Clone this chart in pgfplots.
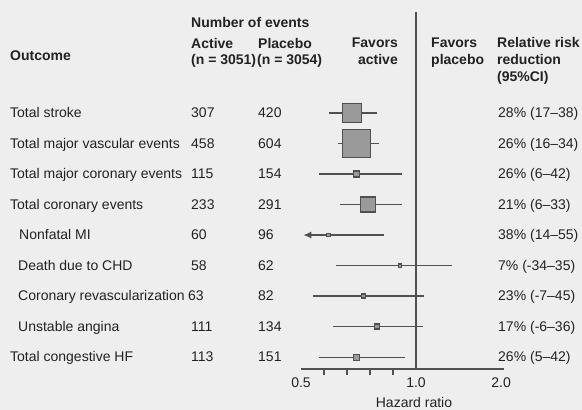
\documentclass[border=0pt]{standalone}
\usepackage{pgfplots}
\pgfplotsset{compat=1.18}
\usepackage{fontspec}
\setmainfont{Liberation Sans}
\usetikzlibrary{arrows.meta}
\definecolor{bg}{HTML}{EEEEEE}
\definecolor{txt}{HTML}{222222}
\definecolor{ln}{HTML}{505050}
\definecolor{boxfill}{HTML}{9A9A9A}
\begin{document}
\fontsize{14pt}{16pt}\selectfont
\begin{tikzpicture}
\begin{scope}[x=1pt,y=-1pt,
  lab/.style={anchor=base west,inner sep=0pt,text=txt,font=\fontsize{14pt}{16pt}\selectfont},
  hdr/.style={anchor=base west,inner sep=0pt,text=txt,font=\fontsize{14pt}{16pt}\selectfont\bfseries}]
\fill[bg] (0,0) rectangle (582,410);
\path[use as bounding box] (0,0) rectangle (582,410);
% headers
\node[hdr] at (191,27) {Number of events};
\node[hdr] at (10,60) {Outcome};
\node[hdr] at (191,48) {Active};
\node[hdr] at (191,64) {(n = 3051)};
\node[hdr] at (258,48) {Placebo};
\node[hdr] at (257,64) {(n = 3054)};
\node[hdr,anchor=base east] at (398,47) {Favors};
\node[hdr,anchor=base east] at (398,64) {active};
\node[hdr] at (431,47) {Favors};
\node[hdr] at (431,64) {placebo};
\node[hdr] at (497,47) {Relative risk};
\node[hdr] at (497,64) {reduction};
\node[hdr] at (497,81) {(95\%CI)};
% rows
\node[lab] at (10,117.5) {Total stroke};
\node[lab] at (10,148) {Total major vascular events};
\node[lab] at (10,178.5) {Total major coronary events};
\node[lab] at (10,209) {Total coronary events};
\node[lab] at (19,239.5) {Nonfatal MI};
\node[lab] at (18,270) {Death due to CHD};
\node[lab] at (18,300.5) {Coronary revascularization};
\node[lab] at (18,331) {Unstable angina};
\node[lab] at (10,361.5) {Total congestive HF};
\node[lab] at (191,117.5) {307};  \node[lab] at (258,117.5) {420};
\node[lab] at (191,148) {458};    \node[lab] at (258,148) {604};
\node[lab] at (191,178.5) {115};  \node[lab] at (258,178.5) {154};
\node[lab] at (191,209) {233};    \node[lab] at (258,209) {291};
\node[lab] at (191,239.5) {60};   \node[lab] at (258,239.5) {96};
\node[lab] at (191,270) {58};     \node[lab] at (258,270) {62};
\node[lab] at (188,300.5) {63};   \node[lab] at (258,300.5) {82};
\node[lab] at (191,331) {111};    \node[lab] at (258,331) {134};
\node[lab] at (191,361.5) {113};  \node[lab] at (258,361.5) {151};
\node[lab] at (498,117.5) {28\% (17--38)};
\node[lab] at (498,148) {26\% (16--34)};
\node[lab] at (498,178.5) {26\% (6--42)};
\node[lab] at (498,209) {21\% (6--33)};
\node[lab] at (498,239.5) {38\% (14--55)};
\node[lab] at (498,270) {7\% (-34--35)};
\node[lab] at (498,300.5) {23\% (-7--45)};
\node[lab] at (498,331) {17\% (-6--36)};
\node[lab] at (498,361.5) {26\% (5--42)};
\node[lab,anchor=base] at (414,407) {Hazard ratio};
\end{scope}
\begin{axis}[
  at={(301pt,-369pt)}, anchor=south west,
  scale only axis, width=203.2pt, height=357pt,
  xmin=0.5, xmax=2.05, ymin=-2.31, ymax=9.39, y dir=reverse,
  x coord trafo/.code={\pgfmathparse{(#1<=1)*(#1)+(#1>1)*(1+0.534*ln(max(#1,1)))}},
  x coord inv trafo/.code={\pgfmathparse{(#1<=1)*(#1)+(#1>1)*exp((max(#1,1)-1)/0.534)}},
  axis x line*=bottom, axis y line=none,
  x axis line style={-, line width=1.2pt, draw=ln},
  xtick={0.5,1,2}, xticklabels={0.5,1.0,2.0},
  major tick length=0pt, tick align=outside,
  extra x ticks={0.6,0.7,0.8,0.9}, extra x tick labels={},
  extra x tick style={major tick length=6pt, tick align=outside,
     every tick/.style={line width=1.1pt, draw=ln}},
  xticklabel style={font=\fontsize{14pt}{16pt}\selectfont, text=txt, yshift=-4pt},
  clip=false,
]
\addplot[ln, line width=1.2pt] coordinates {(1,-2.31) (1,9.39)};
% confidence intervals
\addplot[ln, line width=1.2pt] coordinates {(0.62,1) (0.83,1)};
\addplot[ln, line width=1.2pt] coordinates {(0.66,2) (0.84,2)};
\addplot[ln, line width=1.2pt] coordinates {(0.58,3) (0.94,3)};
\addplot[ln, line width=1.2pt] coordinates {(0.67,4) (0.94,4)};
\addplot[ln, line width=1.2pt, -{Latex[length=8pt,width=7pt]}] coordinates {(0.86,5) (0.51,5)};
\addplot[ln, line width=1.2pt] coordinates {(0.65,6) (1.34,6)};
\addplot[ln, line width=1.2pt] coordinates {(0.55,7) (1.07,7)};
\addplot[ln, line width=1.2pt] coordinates {(0.64,8) (1.06,8)};
\addplot[ln, line width=1.2pt] coordinates {(0.58,9) (0.95,9)};
% point estimates
\pgfplotsset{hr/.style={only marks, mark=square*, mark options={fill=boxfill, draw=ln, line width=1.2pt}}}
\addplot[hr, mark size=9.5pt] coordinates {(0.72,1)};
\addplot[hr, mark size=14pt] coordinates {(0.74,2)};
\addplot[hr, mark size=3pt] coordinates {(0.74,3)};
\addplot[hr, mark size=7.5pt] coordinates {(0.79,4)};
\addplot[hr, mark size=1.8pt] coordinates {(0.62,5)};
\addplot[hr, mark size=1.6pt] coordinates {(0.93,6)};
\addplot[hr, mark size=2pt] coordinates {(0.77,7)};
\addplot[hr, mark size=2.5pt] coordinates {(0.83,8)};
\addplot[hr, mark size=3pt] coordinates {(0.74,9)};
\end{axis}
\end{tikzpicture}
\end{document}
